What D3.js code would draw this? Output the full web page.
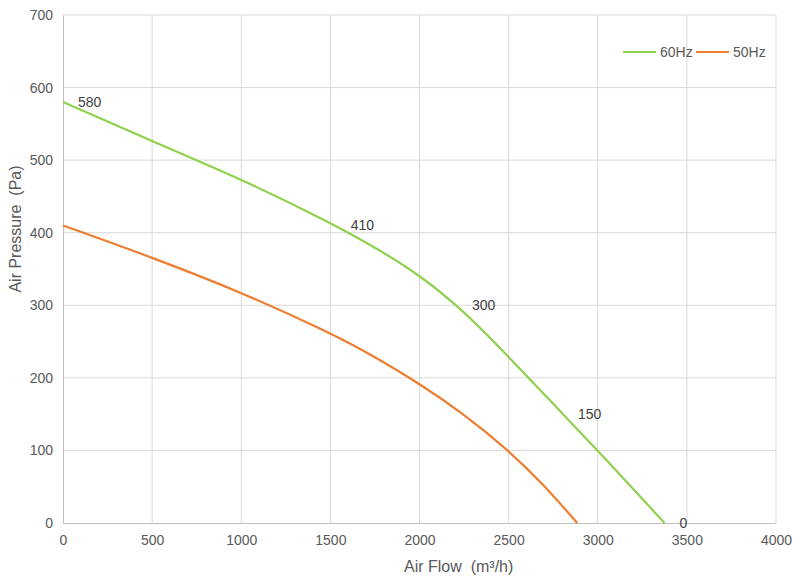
<!DOCTYPE html>
<html>
<head>
<meta charset="utf-8">
<script src="https://cdn.jsdelivr.net/npm/d3@7"></script>
<style>
  body { margin: 0; background: #fff; }
  svg { display: block; font-family: "Liberation Sans", Arial, sans-serif; }
  text { white-space: pre; }
</style>
</head>
<body>
<svg id="chart" width="810" height="582"></svg>
<script>
// curve points (m³/h, Pa)
const flow60 = [0, 500, 1000, 1500, 1750, 2000, 2250, 2500, 2750, 3000, 3375];
const pres60 = [580, 526, 474, 414, 380, 342, 292, 229, 164, 100, 0];
const flow50 = [0, 500, 1000, 1500, 1750, 2000, 2250, 2500, 2700, 2885];
const pres50 = [410, 366, 318, 262, 229, 192, 150, 100, 52, 0];
// value labels shown beside the 60Hz curve
const labelFlow = [0, 1530, 2210, 2805, 3375];
const labelPres = [580, 410, 300, 150, 0];

const xTicks = [0, 500, 1000, 1500, 2000, 2500, 3000, 3500, 4000];
const yTicks = [0, 100, 200, 300, 400, 500, 600, 700];

const series = [
  { name: '60Hz', color: '#8fd14f', pts: flow60.map((f, i) => [f, pres60[i]]) },
  { name: '50Hz', color: '#ed7d31', pts: flow50.map((f, i) => [f, pres50[i]]) }
];

const width = 810, height = 582;
const margin = { top: 15, right: 34, bottom: 59, left: 63 };
const w = width - margin.left - margin.right;
const h = height - margin.top - margin.bottom;

const svg = d3.select('#chart');
const g = svg.append('g').attr('transform', `translate(${margin.left},${margin.top})`);

const x = d3.scaleLinear().domain([0, 4000]).range([0, w]);
const y = d3.scaleLinear().domain([0, 700]).range([h, 0]);

// grid
g.append('g').selectAll('line').data(xTicks.slice(1)).enter().append('line')
  .attr('x1', d => x(d)).attr('x2', d => x(d)).attr('y1', 0).attr('y2', h)
  .attr('stroke', '#d9d9d9').attr('stroke-width', 1);
g.append('g').selectAll('line').data(yTicks.slice(1)).enter().append('line')
  .attr('x1', 0).attr('x2', w).attr('y1', d => y(d)).attr('y2', d => y(d))
  .attr('stroke', '#d9d9d9').attr('stroke-width', 1);

// axes
const xAxis = g.append('g').attr('transform', `translate(0,${h})`)
  .call(d3.axisBottom(x).tickValues(xTicks).tickFormat(d3.format('d')).tickSize(0).tickPadding(12));
const yAxis = g.append('g')
  .call(d3.axisLeft(y).tickValues(yTicks).tickFormat(d3.format('d')).tickSize(0).tickPadding(10));
[xAxis, yAxis].forEach(a => {
  a.select('.domain').attr('stroke', '#bfbfbf');
  a.selectAll('text').attr('fill', '#595959').style('font-size', '14px')
    .style('font-family', '"Liberation Sans", Arial, sans-serif');
});

// lines (smoothed through the read points)
const line = d3.line().x(d => x(d[0])).y(d => y(d[1])).curve(d3.curveBasis);
series.forEach(s => {
  g.append('path').datum(s.pts)
    .attr('fill', 'none').attr('stroke', s.color).attr('stroke-width', 2.2)
    .attr('d', line);
});

// value labels on the 60Hz curve
g.selectAll('.val').data(labelFlow.map((f, i) => [f, labelPres[i]])).enter().append('text')
  .attr('class', 'val')
  .attr('x', d => x(d[0]) + 15).attr('y', d => y(d[1]))
  .attr('dy', '0.35em')
  .attr('fill', '#404040').style('font-size', '14px')
  .text(d => d[1]);

// legend
const leg = svg.append('g').attr('transform', 'translate(623,52)');
let lx = 0;
series.forEach(s => {
  leg.append('line').attr('x1', lx).attr('x2', lx + 33).attr('y1', 0).attr('y2', 0)
    .attr('stroke', s.color).attr('stroke-width', 2.2);
  leg.append('text').attr('x', lx + 37).attr('y', 0).attr('dy', '0.35em')
    .attr('fill', '#595959').style('font-size', '14px').text(s.name);
  lx += 73;
});

// axis titles
svg.append('text')
  .attr('x', 404).attr('y', 572)
  .attr('fill', '#595959').style('font-size', '16px')
  .text('Air Flow  (m³/h)');
svg.append('text')
  .attr('transform', 'translate(21,229) rotate(-90)')
  .attr('text-anchor', 'middle')
  .attr('fill', '#595959').style('font-size', '16px')
  .text('Air Pressure  (Pa)');
</script>
</body>
</html>
